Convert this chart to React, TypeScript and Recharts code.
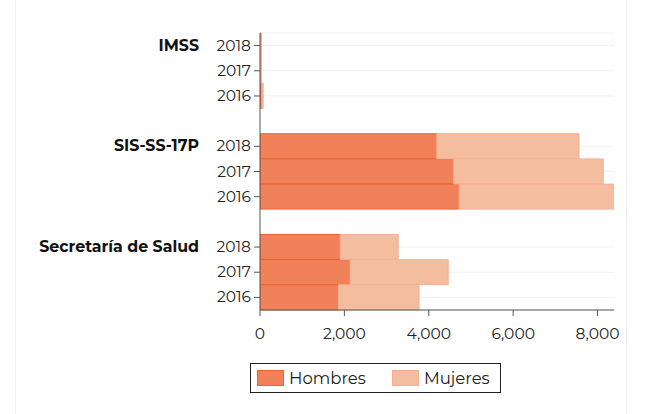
import React from 'react';
import { BarChart, Bar, XAxis, YAxis, CartesianGrid } from 'recharts';

// categorías (las filas vacías separan los grupos)
const groups = ['IMSS', '', 'SIS-SS-17P', '', 'Secretaría de Salud'];
const years = ['2018', '2017', '2016'];
const hombres = [
  [20, 20, 45],
  [4190, 4590, 4720],
  [1900, 2135, 1860],
];
const mujeres = [
  [15, 15, 30],
  [3370, 3545, 3670],
  [1375, 2325, 1910],
];
const xTicks = [0, 2000, 4000, 6000, 8000];

const COLORS = {
  hombres: '#f08159',
  hombresStroke: '#eb6335',
  mujeres: '#f5bda0',
  mujeresStroke: '#f3b091',
};
const FONT = 'Montserrat, "Noto Sans", sans-serif';

const data: any[] = [];
let gi = 0;
groups.forEach((g, i) => {
  if (g === '') {
    data.push({ key: 'gap' + i, group: '', year: '' });
    return;
  }
  years.forEach((y, j) => {
    data.push({
      key: g + '|' + y,
      group: j === 0 ? g : '',
      year: y,
      hombres: hombres[gi][j],
      mujeres: mujeres[gi][j],
    });
  });
  gi++;
});
const yTicks = data.filter(d => d.year !== '').map(d => d.key);

const YTick = (props: any) => {
  const { x, y, payload } = props;
  const row = data.find(d => d.key === payload.value);
  if (!row || !row.year) return null;
  return (
    <g>
      <text x={x - 1} y={y} dy={5} textAnchor="end" fontSize={15.5} fill="#222" fontFamily={FONT}>
        {row.year}
      </text>
      {row.group && (
        <text x={x - 53} y={y} dy={5} textAnchor="end" fontSize={15.8} fontWeight="bold" fill="#111" fontFamily={FONT}>
          {row.group}
        </text>
      )}
    </g>
  );
};

const LegendBox = () => (
  <div
    style={{
      position: 'absolute',
      left: 250,
      top: 363,
      display: 'flex',
      alignItems: 'center',
      border: '1px solid #222',
      width: 251,
      height: 30,
      boxSizing: 'border-box',
      padding: '0 6px',
      fontFamily: FONT,
      fontSize: 16.5,
      color: '#222',
    }}
  >
    <span style={{ width: 27, height: 16, background: COLORS.hombres, border: `1px solid ${COLORS.hombresStroke}`, boxSizing: 'border-box', marginRight: 5 }} />
    <span style={{ marginRight: 26 }}>Hombres</span>
    <span style={{ width: 27, height: 16, background: COLORS.mujeres, border: `1px solid ${COLORS.mujeresStroke}`, boxSizing: 'border-box', marginRight: 5 }} />
    <span>Mujeres</span>
  </div>
);

export default function App() {
  return (
    <div style={{ position: 'absolute', left: 0, top: 0, width: 650, height: 414, background: '#fff' }}>
      <div style={{ position: 'absolute', left: 15, top: 0, width: 610, height: 414, borderLeft: '1px solid #f0f0f0', borderRight: '1px solid #f0f0f0' }} />
      <BarChart
        width={650}
        height={414}
        data={data}
        layout="vertical"
        barCategoryGap={0}
        margin={{ top: 33, right: 36, bottom: 74, left: 0 }}
        style={{ position: 'absolute', left: 0, top: 0 }}
      >
        <CartesianGrid horizontal vertical={false} stroke="#edf1f3" />
        <XAxis
          type="number"
          domain={[0, 'dataMax']}
          ticks={xTicks}
          allowDataOverflow
          tickFormatter={(v: number) => v.toLocaleString('en-US')}
          tick={{ fontSize: 15.5, fill: '#222', fontFamily: FONT }}
          stroke="#555"
          tickSize={6}
          tickMargin={12}
          height={30}
        />
        <YAxis
          type="category"
          dataKey="key"
          ticks={yTicks}
          interval={0}
          width={260}
          tick={<YTick />}
          stroke="#555"
          tickSize={6}
        />
        <Bar dataKey="hombres" name="Hombres" stackId="a" fill={COLORS.hombres} stroke={COLORS.hombresStroke} isAnimationActive={false} />
        <Bar dataKey="mujeres" name="Mujeres" stackId="a" fill={COLORS.mujeres} stroke={COLORS.mujeresStroke} isAnimationActive={false} />
      </BarChart>
      <LegendBox />
    </div>
  );
}
